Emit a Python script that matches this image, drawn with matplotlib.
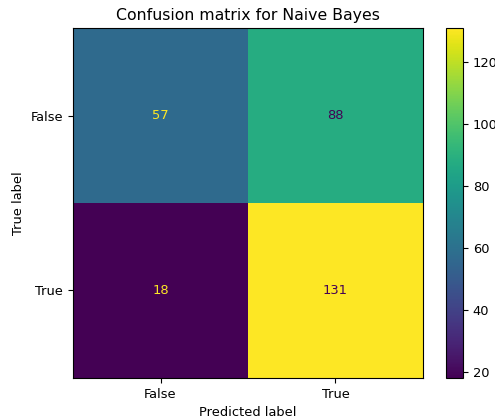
import numpy as np
import matplotlib.pyplot as plt

labels = ["False", "True"]
cm = np.array([[57, 88],
               [18, 131]])

plt.rcParams["font.size"] = 9.4
plt.rcParams["axes.titlesize"] = 11.3

fig = plt.figure(figsize=(4.95, 4.19), dpi=100)
ax = fig.add_axes([0.1475, 0.098, 0.707, 0.835])
cax = fig.add_axes([0.901, 0.098, 0.0343, 0.835])

cmap = plt.get_cmap("viridis")
im = ax.imshow(cm, interpolation="nearest", cmap=cmap, aspect="auto")
fig.colorbar(im, cax=cax)

# light text on dark cells, dark text on light cells
thresh = (cm.max() + cm.min()) / 2.0
cmap_min, cmap_max = cmap(0), cmap(1.0)
for i in range(cm.shape[0]):
    for j in range(cm.shape[1]):
        color = cmap_max if cm[i, j] < thresh else cmap_min
        ax.text(j, i, str(cm[i, j]), ha="center", va="center", color=color)

ax.set_xticks(range(len(labels)))
ax.set_yticks(range(len(labels)))
ax.set_xticklabels(labels)
ax.set_yticklabels(labels)
ax.set_xlabel("Predicted label")
ax.set_ylabel("True label")
ax.set_title("Confusion matrix for Naive Bayes")

fig.savefig("out.png", dpi=100)
